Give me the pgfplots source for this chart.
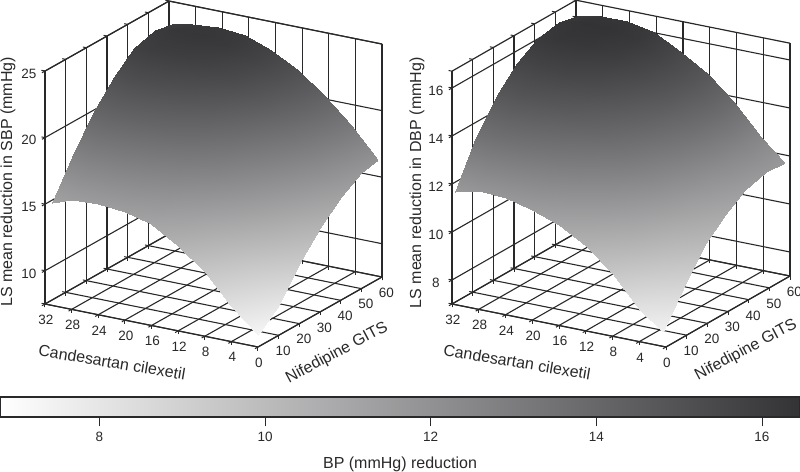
\documentclass[border=0pt]{standalone}
\usepackage{fontspec}
\setmainfont{Liberation Sans}
\usepackage{pgfplots}
\pgfplotsset{compat=1.18}
\definecolor{ink}{rgb}{0.16,0.16,0.17}
\pgfplotsset{
  bpbox/.style={
    /pgf/number format/assume math mode=true,
    colormap={bpgray}{rgb255=(255,255,255) rgb255=(51,51,54)},
    grid=major,
    grid style={line width=1.1pt,draw=ink},
    axis line style={line width=1.2pt,draw=ink},
    tick style={line width=1pt,draw=ink},
    major tick length=3.5pt,
    tick align=outside,
    tick pos=left,
    ticklabel style={font=\fontsize{13.5}{15}\selectfont,text=ink},
    label style={font=\fontsize{16}{18}\selectfont,text=ink},
    x dir=reverse,
    xtick={0,4,...,32},
    ytick={0,10,...,60},
    yticklabels={,10,20,30,40,50,60},
    xmin=0,xmax=32,ymin=0,ymax=60,
    xticklabel style={anchor=center,xshift=4pt,yshift=-14pt},
    yticklabel style={anchor=center,xshift=1pt,yshift=-15pt},
    zticklabel style={anchor=center,xshift=-13pt,yshift=-1pt},
    clip=false,
    xlabel={Candesartan cilexetil},
    ylabel={Nifedipine GITS},
  }
}
\begin{document}
\begin{tikzpicture}
\path[use as bounding box] (0,0) rectangle (800pt,471pt);
% left panel
\begin{axis}[bpbox,
  at={(45pt,124pt)},anchor=south west,
  x={(6.656pt,-1.344pt)},y={(2.067pt,1.167pt)},z={(0pt,13.31pt)},
  zmin=7.5,zmax=25,ztick={10,15,20,25},
  point meta min=7.6,point meta max=24.4,
  xlabel style={at={(axis cs:21.93,0,4.14)},anchor=center,rotate=-9.5},
  ylabel style={at={(axis cs:0,38.2,3.69)},anchor=center,rotate=28},
  zlabel style={at={(axis cs:32,-17.9,18.24)},anchor=center,rotate=0},
  zlabel={LS mean reduction in SBP (mmHg)},
]
\addplot3[surf,shader=interp,mesh/cols=9,point meta=z] coordinates {
(0,0,8.4)(4,0,10.2)(8,0,12.3)(12,0,13.9)(16,0,15.1)(20,0,15.6)(24,0,15.8)(28,0,15.7)(31,0,15.2)
(0,10,9.75)(4,10,11.78)(8,10,13.98)(12,10,15.72)(16,10,17.05)(20,10,17.75)(24,10,18.1)(28,10,18.15)(31,10,17.8)
(0,20,12.0)(4,20,14.11)(8,20,16.28)(12,20,18.01)(16,20,19.35)(20,20,20.09)(24,20,20.45)(28,20,20.51)(31,20,20.2)
(0,30,13.8)(4,30,15.97)(8,30,18.08)(12,30,19.79)(16,30,21.11)(20,30,21.87)(24,30,22.23)(28,30,22.28)(31,30,22.0)
(0,40,15.3)(4,40,17.51)(8,40,19.54)(12,40,21.2)(16,40,22.46)(20,40,23.23)(24,40,23.57)(28,40,23.57)(31,40,23.3)
(0,50,16.2)(4,50,18.42)(8,50,20.34)(12,50,21.93)(16,50,23.12)(20,50,23.87)(24,50,24.14)(28,50,24.08)(31,50,23.8)
(0,58,16.5)(4,58,18.7)(8,58,20.5)(12,58,22.0)(16,58,23.1)(20,58,23.8)(24,58,24.0)(28,58,23.85)(31,58,23.55)
};
\end{axis}
% right panel
\begin{axis}[bpbox,
  at={(452pt,124pt)},anchor=south west,
  x={(6.6875pt,-1.344pt)},y={(2.067pt,1.183pt)},z={(0pt,24pt)},
  zmin=7,zmax=16.7,ztick={8,10,12,14,16},
  point meta min=7.0,point meta max=16.46,
  xlabel style={at={(axis cs:22.28,0,5.13)},anchor=center,rotate=-9.5},
  ylabel style={at={(axis cs:0,38.7,4.96)},anchor=center,rotate=28},
  zlabel style={at={(axis cs:32,-16.93,12.88)},anchor=center,rotate=0},
  zlabel={LS mean reduction in DBP (mmHg)},
]
\addplot3[surf,shader=interp,mesh/cols=9,point meta=z] coordinates {
(0.5,0,7.6)(4,0,8.35)(8,0,9.6)(12,0,10.55)(16,0,11.2)(20,0,11.6)(24,0,11.85)(28,0,11.92)(31.5,0,11.7)
(0.5,10,8.9)(4,10,9.72)(8,10,11.03)(12,10,12.04)(16,10,12.76)(20,10,13.25)(24,10,13.54)(28,10,13.66)(31.5,10,13.5)
(0.5,20,10.2)(4,20,11.02)(8,20,12.32)(12,20,13.31)(16,20,14.03)(20,20,14.55)(24,20,14.83)(28,20,14.92)(31.5,20,14.75)
(0.5,30,11.0)(4,30,11.84)(8,30,13.14)(12,30,14.13)(16,30,14.86)(20,30,15.41)(24,30,15.69)(28,30,15.77)(31.5,30,15.6)
(0.5,40,11.55)(4,40,12.41)(8,40,13.7)(12,40,14.69)(16,40,15.41)(20,40,15.99)(24,40,16.26)(28,40,16.32)(31.5,40,16.15)
(0.5,50,11.8)(4,50,12.65)(8,50,13.93)(12,50,14.9)(16,50,15.63)(20,50,16.23)(24,50,16.47)(28,50,16.51)(31.5,50,16.33)
(0.5,59,11.75)(4,59,12.6)(8,59,13.85)(12,59,14.8)(16,59,15.5)(20,59,16.1)(24,59,16.32)(28,59,16.32)(31.5,59,16.12)
};
\end{axis}
% colour bar
\begin{axis}[
  /pgf/number format/assume math mode=true,
  at={(0pt,54pt)},anchor=south west,
  width=800pt,height=20pt,scale only axis,
  view={0}{90},
  colormap={bpgray}{rgb255=(255,255,255) rgb255=(51,51,54)},
  xmin=6.8,xmax=16.46,ymin=0,ymax=1,
  xtick={8,10,12,14,16},ytick=\empty,
  tick align=outside,major tick length=9pt,
  xtick pos=bottom,
  tick style={line width=0.8pt,draw=ink},
  axis line style={line width=1.4pt,draw=ink},
  axis on top,
  ticklabel style={font=\fontsize{13.5}{15}\selectfont,text=ink},
  xticklabel style={yshift=-3pt},
  xlabel={BP (mmHg) reduction},
  xlabel style={font=\fontsize{16}{18}\selectfont,text=ink,at={(axis description cs:0.5,-2.35)},anchor=center},
]
\addplot3[surf,shader=interp,mesh/cols=2,point meta=x] coordinates {
(6.8,0,0)(16.46,0,0)
(6.8,1,0)(16.46,1,0)
};
\end{axis}
\end{tikzpicture}
\end{document}
